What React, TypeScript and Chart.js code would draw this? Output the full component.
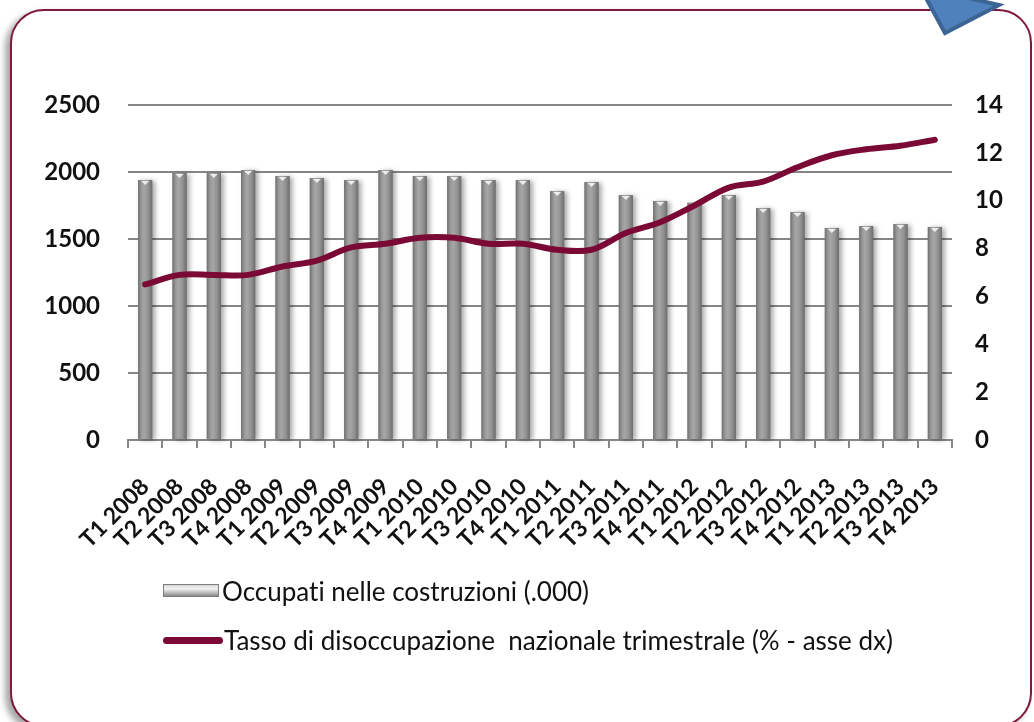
import React, { useEffect, useRef } from "react";
import { Chart, registerables } from "chart.js";

Chart.register(...registerables);

const categories = [
  "T1 2008", "T2 2008", "T3 2008", "T4 2008",
  "T1 2009", "T2 2009", "T3 2009", "T4 2009",
  "T1 2010", "T2 2010", "T3 2010", "T4 2010",
  "T1 2011", "T2 2011", "T3 2011", "T4 2011",
  "T1 2012", "T2 2012", "T3 2012", "T4 2012",
  "T1 2013", "T2 2013", "T3 2013", "T4 2013",
];

const occupati = [
  1940, 1993, 1993, 2015,
  1970, 1955, 1940, 2015,
  1970, 1970, 1940, 1940,
  1858, 1925, 1828, 1784,
  1770, 1828, 1731, 1702,
  1582, 1597, 1612, 1590,
];

const tasso = [
  6.5, 6.9, 6.9, 6.9,
  7.25, 7.5, 8.05, 8.2,
  8.45, 8.45, 8.2, 8.2,
  7.95, 7.95, 8.65, 9.1,
  9.8, 10.55, 10.8, 11.4,
  11.9, 12.15, 12.3, 12.55,
];

const leftTicks = [0, 500, 1000, 1500, 2000, 2500];
const rightTicks = [0, 2, 4, 6, 8, 10, 12, 14];

const barLabel = "Occupati nelle costruzioni (.000)";
const lineLabel = "Tasso di disoccupazione  nazionale trimestrale (% - asse dx)";

const FONT = "Lato, 'Liberation Sans', sans-serif";
const LINE_COLOR = "#7a0a35";
const GRID = "#868686";

const barStylePlugin = {
  id: "barStyle",
  afterDatasetDraw(chart: any, args: any) {
    if (args.index !== 0) return;
    const ctx = chart.ctx;
    const meta = chart.getDatasetMeta(0);
    meta.data.forEach((el: any) => {
      const { x, y, base, width } = el.getProps(["x", "y", "base", "width"], true);
      const left = x - width / 2;
      const h = base - y;
      const g = ctx.createLinearGradient(left, 0, left + width, 0);
      g.addColorStop(0, "#6f6f6f");
      g.addColorStop(0.22, "#979797");
      g.addColorStop(0.42, "#a6a6a6");
      g.addColorStop(0.7, "#949494");
      g.addColorStop(1, "#6e6e6e");
      ctx.save();
      ctx.shadowColor = "rgba(0,0,0,0.35)";
      ctx.shadowBlur = 5;
      ctx.shadowOffsetX = 3;
      ctx.shadowOffsetY = 1;
      ctx.fillStyle = g;
      ctx.fillRect(left, y, width, h);
      ctx.restore();
      ctx.save();
      ctx.fillStyle = "#ececec";
      ctx.beginPath();
      ctx.moveTo(x - 4, y + 1);
      ctx.lineTo(x + 4, y + 1);
      ctx.lineTo(x, y + 5);
      ctx.closePath();
      ctx.fill();
      ctx.restore();
    });
  },
};

export default function App() {
  const canvasRef = useRef<HTMLCanvasElement | null>(null);

  useEffect(() => {
    if (!canvasRef.current) return;
    const chart = new Chart(canvasRef.current, {
      type: "bar",
      data: {
        labels: categories,
        datasets: [
          {
            type: "bar",
            label: barLabel,
            data: occupati,
            backgroundColor: "#9a9a9a",
            barPercentage: 0.41,
            categoryPercentage: 1,
            yAxisID: "y",
            order: 1,
          },
          {
            type: "line",
            label: lineLabel,
            data: tasso,
            borderColor: LINE_COLOR,
            backgroundColor: LINE_COLOR,
            borderWidth: 6,
            tension: 0.35,
            pointRadius: 0,
            borderCapStyle: "round",
            borderJoinStyle: "round",
            yAxisID: "y1",
            order: 0,
          },
        ],
      },
      options: {
        responsive: false,
        animation: false,
        layout: { padding: { top: 105, left: 0, right: 0, bottom: 0 } },
        plugins: {
          legend: { display: false },
          tooltip: { enabled: false },
        },
        scales: {
          x: {
            offset: true,
            grid: {
              display: true,
              offset: true,
              drawOnChartArea: false,
              drawTicks: true,
              tickLength: 8,
              color: GRID,
              lineWidth: 2,
            },
            border: { display: true, color: GRID, width: 2 },
            ticks: {
              autoSkip: false,
              minRotation: 45,
              maxRotation: 45,
              padding: 25,
              color: "#111",
              font: { family: FONT, size: 23, weight: "bold" },
            },
            afterFit(scale: any) {
              scale.height = 282;
            },
          },
          y: {
            position: "left",
            min: 0,
            max: 2500,
            afterBuildTicks(scale: any) {
              scale.ticks = leftTicks.map((v) => ({ value: v }));
            },
            grid: { color: GRID, lineWidth: 2, drawTicks: false },
            border: { display: false },
            ticks: {
              padding: 28,
              color: "#111",
              font: { family: FONT, size: 24, weight: "bold" },
              callback: (v: any) => String(v),
            },
            afterFit(scale: any) {
              scale.width = 128;
            },
          },
          y1: {
            position: "right",
            min: 0,
            max: 14,
            afterBuildTicks(scale: any) {
              scale.ticks = rightTicks.map((v) => ({ value: v }));
            },
            grid: { drawOnChartArea: false, drawTicks: false },
            border: { display: false },
            ticks: {
              padding: 23,
              color: "#111",
              font: { family: FONT, size: 24, weight: "bold" },
              callback: (v: any) => String(v),
            },
            afterFit(scale: any) {
              scale.width = 82;
            },
          },
        },
      },
      plugins: [barStylePlugin],
    } as any);
    return () => chart.destroy();
  }, []);

  const textStyle: React.CSSProperties = {
    position: "absolute",
    left: 222,
    fontFamily: FONT,
    fontSize: 26,
    color: "#111",
    whiteSpace: "pre",
    lineHeight: "30px",
    height: 30,
    fontVariantLigatures: "none",
    fontFeatureSettings: '"liga" 0, "clig" 0',
  };

  return (
    <div
      style={{
        position: "fixed",
        left: 0,
        top: 0,
        width: 1034,
        height: 722,
        overflow: "hidden",
        background: "#fff",
      }}
    >
      <div
        style={{
          position: "absolute",
          left: 10,
          top: 9,
          width: 1018,
          height: 714,
          border: "2px solid #7e1a3c",
          borderRadius: 34,
          boxShadow: "-5px 4px 6px rgba(0,0,0,0.35)",
          background: "#fff",
        }}
      />
      <svg
        width={1034}
        height={60}
        style={{ position: "absolute", left: 0, top: 0, zIndex: 3 }}
      >
        <polygon
          points="920,-13 999,5 945,33"
          fill="#4f81bd"
          stroke="#3c6595"
          strokeWidth={4}
          strokeLinejoin="miter"
        />
      </svg>
      <canvas
        ref={canvasRef}
        width={1034}
        height={722}
        style={{ position: "absolute", left: 0, top: 0, zIndex: 2 }}
      />
      <div style={{ position: "absolute", zIndex: 2, left: 0, top: 0 }}>
        <div
          style={{
            position: "absolute",
            left: 163,
            top: 584,
            width: 56,
            height: 13,
            boxSizing: "border-box",
            border: "1px solid #7c7c7c",
            background:
              "linear-gradient(to bottom, #d8d8d8 0%, #f2f2f2 35%, #bdbdbd 70%, #8a8a8a 100%)",
          }}
        />
        <div style={{ ...textStyle, top: 576 }}>{barLabel}</div>
        <div
          style={{
            position: "absolute",
            left: 163,
            top: 637,
            width: 60,
            height: 7,
            borderRadius: 4,
            background: LINE_COLOR,
          }}
        />
        <div style={{ ...textStyle, top: 625, left: 224 }}>{lineLabel}</div>
      </div>
    </div>
  );
}
